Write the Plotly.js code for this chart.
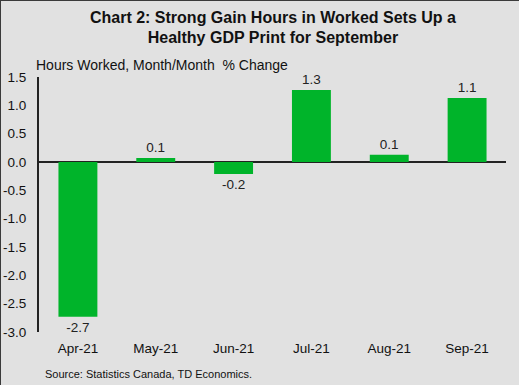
<!DOCTYPE html>
<html>
<head>
<meta charset="utf-8">
<script src="https://cdn.plot.ly/plotly-3.0.1.min.js"></script>
<style>
html,body{margin:0;padding:0;background:#e1e1e1;}
#wrap{width:519px;height:385px;box-sizing:border-box;border-top:1px solid #3a3a3a;border-left:1px solid #3a3a3a;overflow:hidden;}
#chart{width:518px;height:384px;}
</style>
</head>
<body>
<div id="wrap"><div id="chart"></div></div>
<script>
const categories = ["Apr-21", "May-21", "Jun-21", "Jul-21", "Aug-21", "Sep-21"];
const hoursWorked = [-2.73, 0.07, -0.21, 1.27, 0.13, 1.13];
const barLabels = hoursWorked.map(v => v.toFixed(1));
const titleText = "Chart 2: Strong Gain Hours in Worked Sets Up a<br>Healthy GDP Print for September";
const yTitleText = "Hours Worked, Month/Month  % Change";
const sourceText = "Source: Statistics Canada, TD Economics.";
const yTicks = [-3.0, -2.5, -2.0, -1.5, -1.0, -0.5, 0.0, 0.5, 1.0, 1.5];

const font = "Arial, 'Liberation Sans', sans-serif";

Plotly.newPlot("chart", [{
  type: "bar",
  x: categories,
  y: hoursWorked,
  text: barLabels,
  textposition: "outside",
  cliponaxis: false,
  textfont: {family: font, size: 13.5, color: "#222"},
  marker: {color: "#00b42a"},
  hoverinfo: "none"
}], {
  width: 518, height: 384,
  paper_bgcolor: "#e1e1e1",
  plot_bgcolor: "#e1e1e1",
  margin: {l: 38, r: 13, t: 76, b: 53},
  bargap: 0.5,
  showlegend: false,
  font: {family: font, color: "#111"},
  title: {
    text: "<b>" + titleText + "</b>",
    font: {family: font, size: 16, color: "#111"},
    x: 0.525, xanchor: "center",
    y: 0.944, yanchor: "middle", yref: "container"
  },
  xaxis: {
    type: "category",
    showline: false, showgrid: false, zeroline: false,
    ticks: "", ticklabelstandoff: 6,
    tickfont: {family: font, size: 13.5, color: "#111"}
  },
  yaxis: {
    range: [-3.0, 1.5],
    tickvals: yTicks,
    ticktext: yTicks.map(v => v.toFixed(1)),
    showgrid: false,
    showline: true, linecolor: "#222", linewidth: 2,
    zeroline: true, zerolinecolor: "#222", zerolinewidth: 2,
    ticks: "", ticklabelstandoff: 8,
    tickfont: {family: font, size: 13.5, color: "#111"}
  },
  annotations: [
    {text: yTitleText, xref: "paper", yref: "paper", x: -0.011, y: 1.047,
     xanchor: "left", yanchor: "middle", showarrow: false,
     font: {family: font, size: 14, color: "#111"}},
    {text: sourceText, xref: "paper", yref: "paper", x: 0.009, y: -0.165,
     xanchor: "left", yanchor: "middle", showarrow: false,
     font: {family: font, size: 11, color: "#111"}}
  ]
}, {displayModeBar: false, staticPlot: true});
</script>
</body>
</html>
